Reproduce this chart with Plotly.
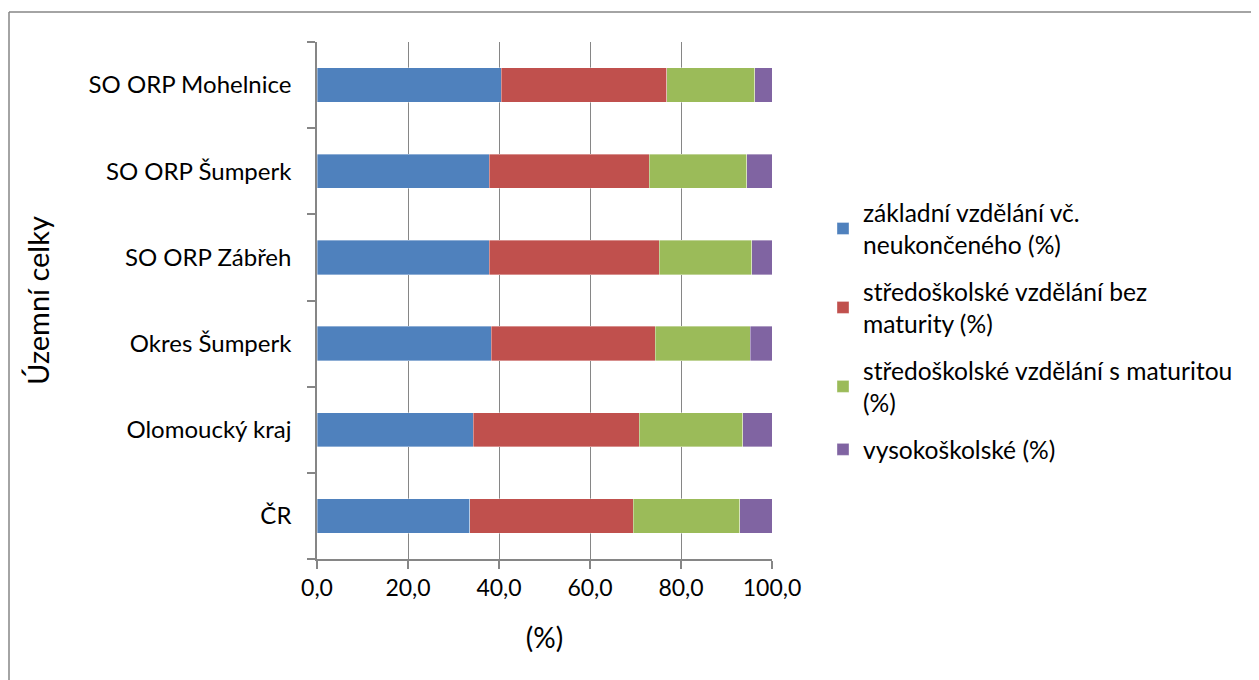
import plotly.graph_objects as go

categories = ["ČR", "Olomoucký kraj", "Okres Šumperk", "SO ORP Zábřeh",
              "SO ORP Šumperk", "SO ORP Mohelnice"]
zakladni = [33.6, 34.3, 38.3, 37.9, 37.9, 40.5]
stredni_bez = [35.9, 36.5, 36.0, 37.3, 35.1, 36.4]
stredni_s = [23.4, 22.8, 20.9, 20.4, 21.4, 19.3]
vysoko = [7.1, 6.4, 4.8, 4.4, 5.6, 3.8]

series_names = ["základní vzdělání vč.<br>neukončeného (%)",
                "středoškolské vzdělání bez<br>maturity (%)",
                "středoškolské vzdělání s maturitou<br>(%)",
                "vysokoškolské (%)"]
series_values = [zakladni, stredni_bez, stredni_s, vysoko]
colors = ["#4F81BD", "#C0504D", "#9BBB59", "#8064A2"]
x_ticks = [0, 20, 40, 60, 80, 100]

# page has an 8px body margin; work in figure pixel coordinates
OFF = 8
W, H = 1259 - OFF, 680 - OFF
PL, PR, PT, PB = 317 - OFF, 772 - OFF, 42 - OFF, 559 - OFF
L, R, T, B = PL, W - PR, PT, H - PB
FONT = "Lato"

fig = go.Figure()
for i, (name, vals, col) in enumerate(zip(series_names, series_values, colors)):
    fig.add_trace(go.Bar(
        y=categories, x=vals, name=name, orientation="h",
        marker=dict(color=col, line=dict(color="rgba(255,255,255,0.6)", width=0.6)),
        legendgroup=f"g{i}",
    ))

pw, ph = W - L - R, H - T - B
def px_to_paper_x(px):
    return (px - L) / pw
def px_to_paper_y(py):
    return (H - B - py) / ph

grid = "#868686"
fig.update_layout(
    width=W, height=H,
    margin=dict(l=L, r=R, t=T, b=B, pad=0),
    barmode="stack", bargap=0.6,
    paper_bgcolor="white", plot_bgcolor="white",
    separators=", ",
    font=dict(family=FONT, color="#000000", size=24),
    legend=dict(
        x=px_to_paper_x(815), y=px_to_paper_y(182), xanchor="left", yanchor="top",
        traceorder="grouped", tracegroupgap=12,
        font=dict(family=FONT, size=24.6), itemwidth=30,
        bgcolor="rgba(0,0,0,0)",
    ),
    xaxis=dict(
        range=[0, 100], tickvals=x_ticks, tickformat=".1f",
        showgrid=True, gridcolor=grid, gridwidth=1.3,
        showline=True, linecolor=grid, linewidth=1.5,
        ticks="outside", ticklen=8, tickcolor=grid, tickwidth=1.5,
        tickfont=dict(family=FONT, size=23),
        title=dict(text="(%)", font=dict(family=FONT, size=28), standoff=28),
        zeroline=False, fixedrange=True,
    ),
    yaxis=dict(
        type="category", categoryorder="array", categoryarray=categories,
        showline=True, linecolor=grid, linewidth=1.5,
        ticks="outside", ticklen=8, tickcolor=grid, tickwidth=1.5,
        tickson="boundaries", ticklabelstandoff=19,
        tickfont=dict(family=FONT, size=24),
        title=dict(text="Územní celky", font=dict(family=FONT, size=29), standoff=30),
        showgrid=False, fixedrange=True,
    ),
    shapes=[
        dict(type="line", xref="paper", yref="paper",
             x0=px_to_paper_x(9 - OFF), x1=px_to_paper_x(W + 5),
             y0=px_to_paper_y(12 - OFF), y1=px_to_paper_y(12 - OFF),
             line=dict(color=grid, width=1.5)),
        dict(type="line", xref="paper", yref="paper",
             x0=px_to_paper_x(9 - OFF), x1=px_to_paper_x(9 - OFF),
             y0=px_to_paper_y(12 - OFF), y1=px_to_paper_y(H + 5),
             line=dict(color=grid, width=1.5)),
    ],
)

fig.write_html("out.html")
